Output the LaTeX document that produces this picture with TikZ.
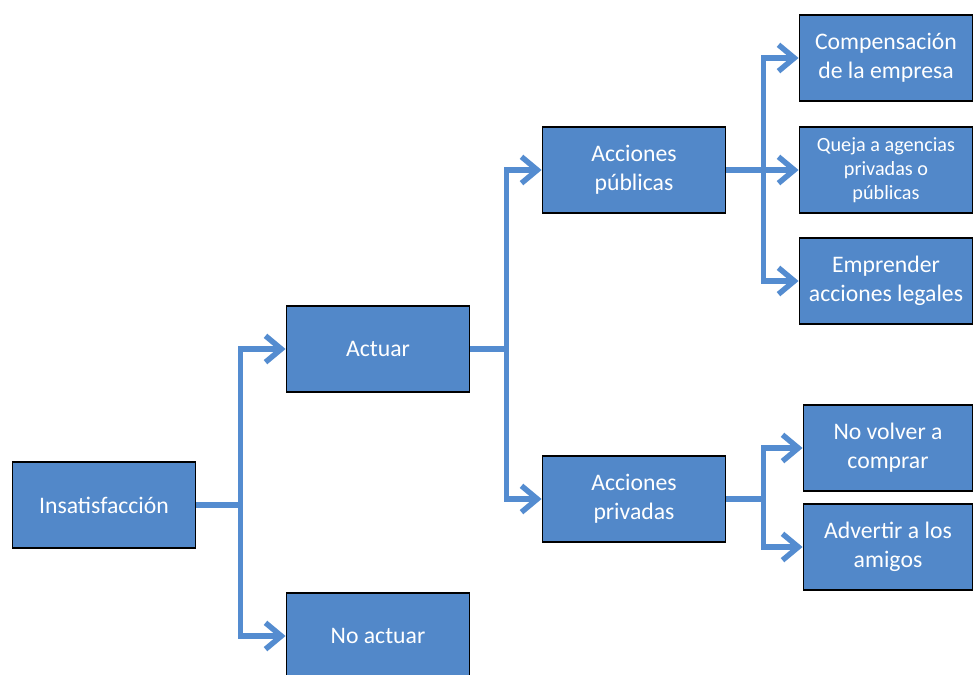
\documentclass[tikz,border=0pt]{standalone}
\usepackage{fontspec}
\setmainfont{Carlito}
\usetikzlibrary{positioning,arrows.meta}
\definecolor{boxblue}{RGB}{82,136,201}
\definecolor{linkblue}{RGB}{84,140,208}

\begin{document}
\begin{tikzpicture}[x=0.02cm,y=-0.02cm,
  box/.style={draw=black,line width=1.1pt,fill=boxblue,text=white,
              align=center,font=\fontsize{13.5}{16.5}\selectfont,
              minimum width=3.66cm,minimum height=1.72cm,inner sep=2pt},
  sidebox/.style={box,minimum width=3.46cm},
  link/.style={linkblue,line width=3.1pt,
               -{Straight Barb[length=9pt,width=15pt,line width=3.1pt]}}]
\useasboundingbox (0,0) rectangle (974,675);
% Root and first level
\node[box] (ins) at (104,505) {Insatisfacción};
\node[box] (act) at (378,349) {Actuar};
\node[box] (noact) at (378,636) {No actuar};
% Second level
\node[box] (pub) at (634,170) {Acciones\\públicas};
\node[box] (priv) at (634,499) {Acciones\\privadas};
% Leaves of public actions
\node[sidebox] (comp) at (886,58) {Compensación\\de la empresa};
\node[sidebox,font=\fontsize{11.5}{13.5}\selectfont] (queja) at (886,170) {Queja a agencias\\privadas o\\públicas};
\node[sidebox] (legal) at (886,281) {Emprender\\acciones legales};
% Leaves of private actions
\node[sidebox,minimum width=3.38cm] (novol) at (888,448) {No volver a\\comprar};
\node[sidebox,minimum width=3.38cm] (adv) at (888,547) {Advertir a los\\amigos};
%% Connectors with a vertical spine
\draw[link] (ins.east) -- ++(44,0) |- (act.west);
\draw[link] (ins.east) -- ++(44,0) |- (noact.west);
\draw[link] (act.east) -- ++(36,0) |- (pub.west);
\draw[link] (act.east) -- ++(36,0) |- (priv.west);
\draw[link] (pub.east) -- ++(37,0) |- (comp.west);
\draw[link] (pub.east) -- (queja.west);
\draw[link] (pub.east) -- ++(37,0) |- (legal.west);
\draw[link] (priv.east) -- ++(37,0) |- (novol.west);
\draw[link] (priv.east) -- ++(37,0) |- (adv.west);
\end{tikzpicture}
\end{document}
